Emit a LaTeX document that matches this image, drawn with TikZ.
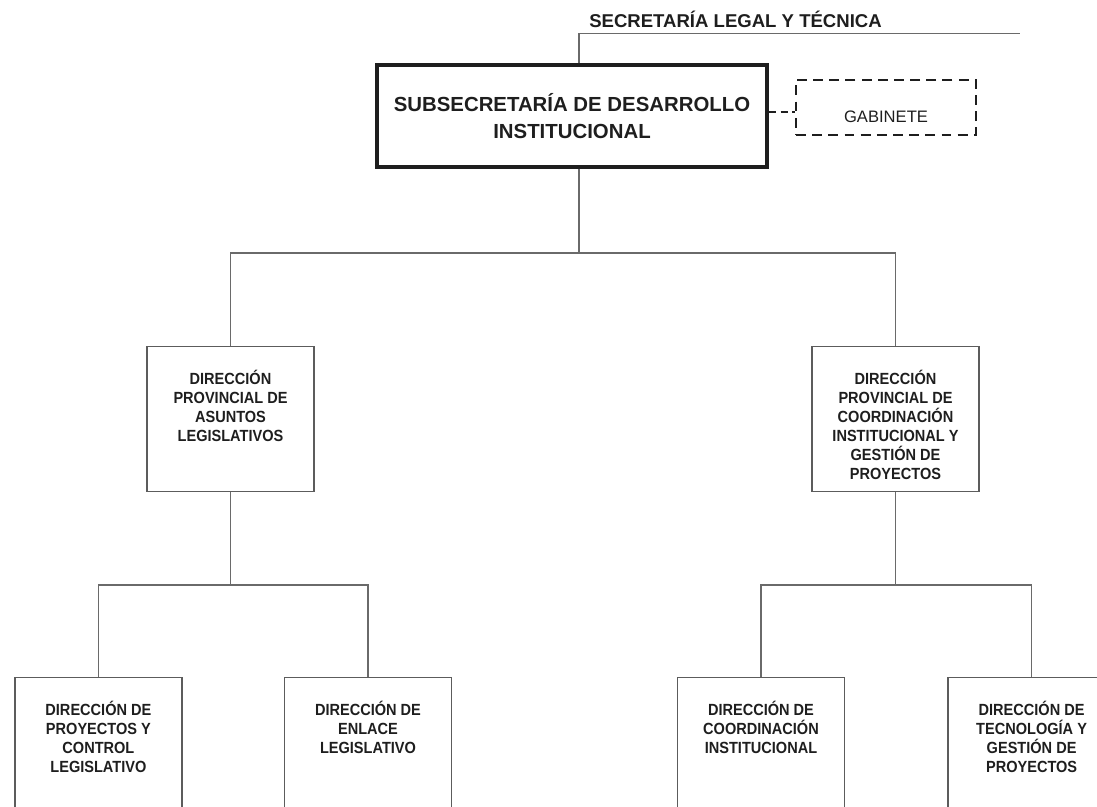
\documentclass[tikz,border=0pt]{standalone}
\usepackage{fontspec}
\setmainfont{Liberation Sans}
\newfontfamily\angosta[FakeStretch=0.9]{Liberation Sans}
\usetikzlibrary{positioning}
\definecolor{trazo}{HTML}{6A6A6A}
\definecolor{marco}{HTML}{5C5C5C}
\definecolor{tinta}{HTML}{1E1E1E}
\tikzset{
  linea/.style={draw=trazo, line width=1.1pt},
  jefe/.style={draw=tinta, line width=2.2pt, minimum width=9.75cm, minimum height=2.55cm, align=center, font=\bfseries\fontsize{14.5}{19}\selectfont, text=tinta},
  apoyo/.style={draw=tinta, line width=1.4pt, dash pattern=on 7pt off 4.5pt, minimum width=4.5cm, minimum height=1.375cm, font=\fontsize{11.8}{14}\selectfont, text=tinta, text height=0.75cm, text depth=0pt},
  enlace/.style={draw=tinta, line width=1.4pt, dash pattern=on 5pt off 3.5pt},
  unidad/.style={draw=marco, line width=0.9pt, minimum width=4.175cm, minimum height=3.625cm, anchor=north},
  unidadbaja/.style={unidad, minimum height=4.5cm},
  rotulo/.style={align=center, inner sep=0pt, font=\angosta\bfseries\fontsize{11.5}{13.5}\selectfont, text=tinta},
  titulo/.style={anchor=base west, inner sep=0pt, font=\bfseries\fontsize{13.2}{16}\selectfont, text=tinta}
}

\begin{document}
\begin{tikzpicture}
\useasboundingbox (0,0) rectangle (27.425,-20.15);
\clip (0,0) rectangle (27.425,-20.15);

\node[titulo] (sec) at (14.725,-0.7) {SECRETARÍA LEGAL Y TÉCNICA};
\coordinate (secA) at (14.475,-0.833);
\coordinate (secB) at (25.5,-0.833);

\node[jefe] (sub) at (14.3,-2.9) {SUBSECRETARÍA DE DESARROLLO\\INSTITUCIONAL};
\node[apoyo] (gab) at (22.15,-2.69) {GABINETE};

\node[unidad] (dpal) at (5.7625,-8.65) {};
\node[unidad] (dpcg) at (22.3875,-8.65) {};
\node[rotulo, below=0.6cm of dpal.north] (dpalT) {DIRECCIÓN\\PROVINCIAL DE\\ASUNTOS\\LEGISLATIVOS};
\node[rotulo, below=0.6cm of dpcg.north] (dpcgT) {DIRECCIÓN\\PROVINCIAL DE\\COORDINACIÓN\\INSTITUCIONAL Y\\GESTIÓN DE\\PROYECTOS};

\node[unidadbaja] (dpcl) at (2.46,-16.925) {};
\node[unidadbaja] (del) at (9.2,-16.925) {};
\node[unidadbaja] (dci) at (19.025,-16.925) {};
\node[unidadbaja] (dtgp) at (25.79,-16.925) {};
\node[rotulo, below=0.6cm of dpcl.north] (dpclT) {DIRECCIÓN DE\\PROYECTOS Y\\CONTROL\\LEGISLATIVO};
\node[rotulo, below=0.6cm of del.north] (delT) {DIRECCIÓN DE\\ENLACE\\LEGISLATIVO};
\node[rotulo, below=0.6cm of dci.north] (dciT) {DIRECCIÓN DE\\COORDINACIÓN\\INSTITUCIONAL};
\node[rotulo, below=0.6cm of dtgp.north] (dtgpT) {DIRECCIÓN DE\\TECNOLOGÍA Y\\GESTIÓN DE\\PROYECTOS};

\draw[linea] (sub.north -| secA) -- (secA) -- (secB);
\draw[enlace] ([yshift=-0.11cm]sub.east |- gab.west) -- ([yshift=-0.11cm]gab.west);

\coordinate (troncoA) at (14.475,-6.325);
\draw[linea] (sub.south -| troncoA) -- (troncoA);
\draw[linea] (dpal.north) |- (troncoA) -| (dpcg.north);

\coordinate[below=2.325cm of dpal.south] (troncoI);
\coordinate[below=2.325cm of dpcg.south] (troncoD);
\draw[linea] (dpal.south) -- (troncoI);
\draw[linea] (dpcl.north) |- (troncoI) -| (del.north);
\draw[linea] (dpcg.south) -- (troncoD);
\draw[linea] (dci.north) |- (troncoD) -| (dtgp.north);
\end{tikzpicture}
\end{document}
